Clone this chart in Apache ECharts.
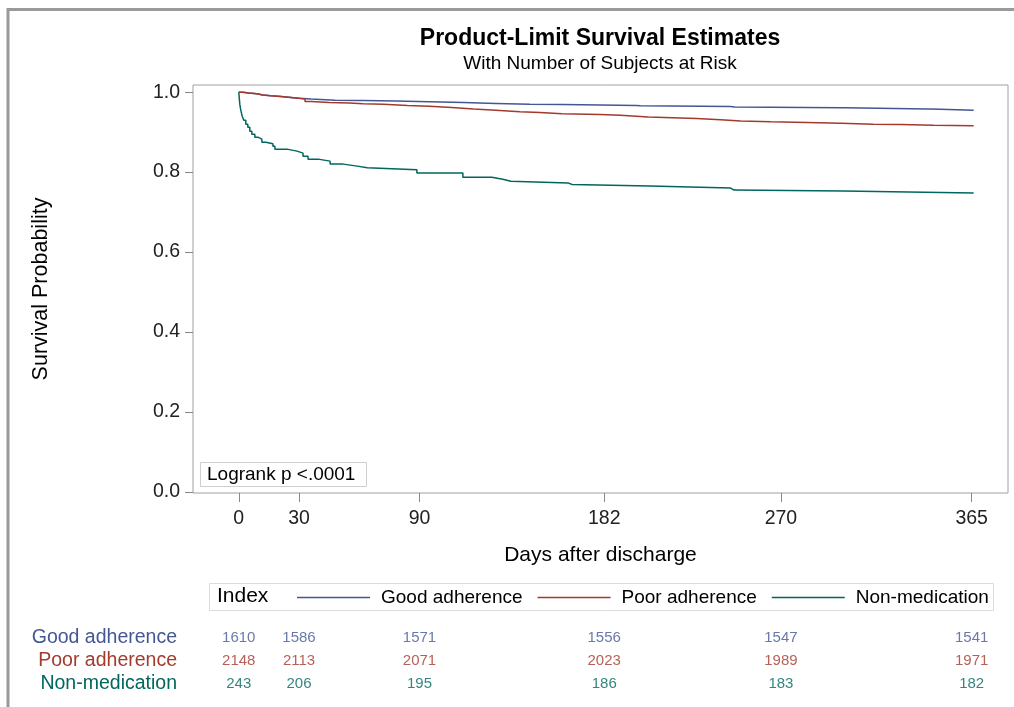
<!DOCTYPE html>
<html lang="en">
<head>
<meta charset="UTF-8">
<title>Product-Limit Survival Estimates</title>
<script src="https://cdn.jsdelivr.net/npm/echarts@6/dist/echarts.min.js"></script>
<style>html,body{margin:0;padding:0;background:#fff;}</style>
</head>
<body>
<div id="main" style="width:1014px;height:707px;"></div>
<script type="text/javascript">
// groups and colours
var groups = ['Good adherence', 'Poor adherence', 'Non-medication'];
var colors = ['#445694', '#A23A2E', '#01665E'];

// axis ticks
var dayTicks = [0, 30, 90, 182, 270, 365];
var probTicks = [0, 0.2, 0.4, 0.6, 0.8, 1.0];

// KM estimates [day, survival]
var goodSurv = [[0, 1.0], [2, 0.998], [5, 0.996], [9, 0.993], [12, 0.991], [16, 0.989], [21, 0.987],
    [26, 0.985], [30, 0.983], [36, 0.980], [48, 0.979], [62, 0.978], [78, 0.976], [95, 0.974],
    [112, 0.972], [128, 0.970], [145, 0.969], [161, 0.968], [180, 0.967], [198, 0.966], [200, 0.964],
    [245, 0.963], [247, 0.961], [300, 0.961], [302, 0.958], [343, 0.958], [345, 0.955], [366, 0.955]];
var poorSurv = [[0, 1.0], [2, 0.998], [5, 0.996], [9, 0.993], [12, 0.991], [16, 0.989], [21, 0.987],
    [26, 0.985], [30, 0.983], [33, 0.977], [36, 0.974], [45, 0.973], [55, 0.971], [62, 0.970],
    [72, 0.967], [84, 0.965], [95, 0.962], [106, 0.958], [117, 0.955], [128, 0.951], [140, 0.949],
    [150, 0.946], [161, 0.944], [180, 0.942], [190, 0.938], [204, 0.936], [216, 0.934], [228, 0.931],
    [240, 0.928], [250, 0.926], [265, 0.924], [283, 0.922], [300, 0.920], [316, 0.919], [330, 0.917],
    [346, 0.916], [366, 0.916]];
var nonSurv = [[0, 1.0], [0.25, 0.985], [0.5, 0.970], [1, 0.955], [1.7, 0.940], [2.5, 0.930],
    [3.5, 0.920], [4.5, 0.9125], [5.5, 0.9025], [6.5, 0.895], [8, 0.8875], [9.5, 0.8825],
    [11.5, 0.875], [13.5, 0.871], [17, 0.865], [18, 0.8575], [24, 0.8525], [29, 0.8475], [32, 0.840],
    [34.5, 0.8325], [39.5, 0.8275], [45.5, 0.820], [52, 0.815], [59, 0.811], [64, 0.806],
    [88.7, 0.798], [111.6, 0.787], [126, 0.782], [131.5, 0.777], [135.5, 0.773], [164, 0.769],
    [166, 0.765], [204.7, 0.760], [245, 0.755], [246.6, 0.7525], [300.9, 0.748], [366, 0.748]];

// number at risk at each day tick
var goodRisk = [1610, 1586, 1571, 1556, 1547, 1541];
var poorRisk = [2148, 2113, 2071, 2023, 1989, 1971];
var nonRisk = [243, 206, 195, 186, 183, 182];

var FONT = 'Liberation Sans, Arial, sans-serif';
var survList = [goodSurv, poorSurv, nonSurv];
var riskList = [goodRisk, poorRisk, nonRisk];

var series = [];
for (let i = 0; i < groups.length; i++) {
    series.push({
        name: groups[i],
        type: 'line',
        step: 'end',
        xAxisIndex: 0,
        yAxisIndex: 0,
        symbol: 'none',
        color: colors[i],
        lineStyle: { width: 1.5, color: colors[i] },
        data: survList[i]
    });
}
// at-risk table rows
for (let i = 0; i < groups.length; i++) {
    var pts = [];
    for (let j = 0; j < dayTicks.length; j++) {
        pts.push([dayTicks[j], groups[i], riskList[i][j]]);
    }
    series.push({
        type: 'scatter',
        xAxisIndex: 1,
        yAxisIndex: 1,
        symbolSize: 1,
        itemStyle: { color: 'rgba(0,0,0,0)' },
        label: {
            show: true,
            position: 'inside',
            fontFamily: FONT,
            fontSize: 15,
            color: colors[i],
            formatter: function (p) { return p.value[2]; }
        },
        data: pts
    });
}

var myChart = echarts.init(document.getElementById('main'), null, { renderer: 'canvas' });
myChart.setOption({
    animation: false,
    backgroundColor: '#fff',
    title: [{
        text: 'Product-Limit Survival Estimates',
        left: 600, top: 27, textAlign: 'center', padding: 0,
        textStyle: { fontFamily: FONT, fontSize: 23, fontWeight: 'bold', color: '#000' }
    }, {
        text: 'With Number of Subjects at Risk',
        left: 600, top: 54, textAlign: 'center', padding: 0,
        textStyle: { fontFamily: FONT, fontSize: 19, fontWeight: 'normal', color: '#000' }
    }],
    legend: {
        data: groups,
        left: 297, top: 588, padding: 0,
        icon: 'rect',
        itemWidth: 73, itemHeight: 1.3, itemGap: 15,
        textStyle: { fontFamily: FONT, fontSize: 19, color: '#000', padding: [0, 0, 0, 6] }
    },
    graphic: [{
        type: 'polyline',
        shape: { points: [[8, 707], [8, 9.5], [1014, 9.5]] },
        style: { stroke: '#9a9a9a', lineWidth: 3, fill: null }
    }, {
        type: 'rect',
        shape: { x: 209.5, y: 583.5, width: 784, height: 27 },
        style: { stroke: '#dcdcdc', lineWidth: 1, fill: null }
    }, {
        type: 'text', left: 217, top: 586,
        style: { text: 'Index', font: '21px ' + FONT, fill: '#000' }
    }, {
        type: 'rect',
        shape: { x: 200.5, y: 462.5, width: 166, height: 24 },
        style: { stroke: '#cfcfcf', lineWidth: 1, fill: '#fff' }
    }, {
        type: 'text', left: 207, top: 465,
        style: { text: 'Logrank p <.0001', font: '19px ' + FONT, fill: '#000' }
    }],
    grid: [{
        left: 193, top: 85, width: 815, height: 408,
        show: true, borderColor: '#a0a0a0', borderWidth: 1, backgroundColor: '#fff'
    }, {
        left: 193, top: 626, width: 815, height: 69
    }],
    xAxis: [{
        type: 'value', gridIndex: 0,
        min: -22.8, max: 383.1,
        name: 'Days after discharge', nameLocation: 'middle', nameGap: 52,
        nameTextStyle: { fontFamily: FONT, fontSize: 21, color: '#000' },
        axisLine: { show: false, onZero: false },
        axisTick: { show: true, customValues: dayTicks, length: 9, lineStyle: { color: '#888' } },
        axisLabel: { customValues: dayTicks, margin: 16, fontFamily: FONT, fontSize: 19.5, color: '#222' },
        splitLine: { show: false }
    }, {
        type: 'value', gridIndex: 1,
        min: -22.8, max: 383.1,
        show: false
    }],
    yAxis: [{
        type: 'value', gridIndex: 0,
        min: -0.003, max: 1.018,
        name: 'Survival Probability', nameLocation: 'middle', nameGap: 141, nameRotate: 90,
        nameTextStyle: { fontFamily: FONT, fontSize: 21.5, color: '#000' },
        axisLine: { show: false, onZero: false },
        axisTick: { show: true, customValues: probTicks, length: 8, lineStyle: { color: '#888' } },
        axisLabel: {
            customValues: probTicks, margin: 13, fontFamily: FONT, fontSize: 19.5, color: '#222',
            formatter: function (v) { return v.toFixed(1); }
        },
        splitLine: { show: false }
    }, {
        type: 'category', gridIndex: 1,
        data: groups, inverse: true,
        axisLine: { show: false, onZero: false },
        axisTick: { show: false },
        axisLabel: {
            interval: 0,
            margin: 16, fontFamily: FONT, fontSize: 19.5,
            color: function (v, idx) { return colors[groups.indexOf(v)]; }
        },
        splitLine: { show: false }
    }],
    series: series
});
</script>
</body>
</html>
